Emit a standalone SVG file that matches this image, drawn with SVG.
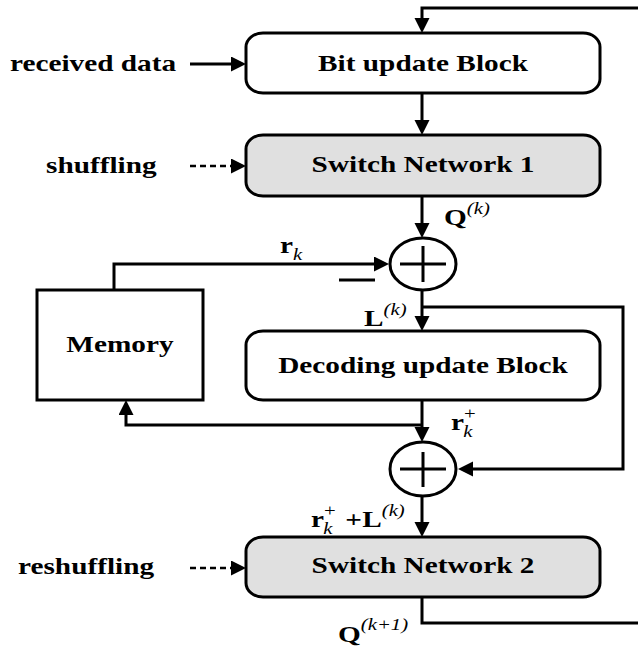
<svg xmlns="http://www.w3.org/2000/svg" width="638" height="649" viewBox="0 0 638 649">
  <style>
    .blk { fill: #ffffff; stroke: #000; stroke-width: 3; }
    .sw { fill: #e0e0e0; stroke: #000; stroke-width: 3; }
    .wire { fill: none; stroke: #000; stroke-width: 3; }
    .dash { fill: none; stroke: #000; stroke-width: 2.5; stroke-dasharray: 6 4; }
    .lbl { font-family: "Liberation Serif", "Times New Roman", serif; font-weight: bold; font-size: 24px; fill: #000; }
    .mid { text-anchor: middle; }
    .it { font-style: italic; font-weight: normal; font-size: 17px; }
    .up { font-weight: normal; font-size: 17px; }
  </style>
  <defs>
    <marker id="arrow" markerUnits="userSpaceOnUse" markerWidth="16" markerHeight="16" refX="11" refY="7.5" orient="auto">
      <path d="M0,0 L15,7.5 L0,15 Z" fill="#000"/>
    </marker>
  </defs>

  <!-- connectors -->
  <g id="connectors">
    <!-- loop back from Switch Network 2 to Bit update Block -->
    <path class="wire" d="M422,597 V623 H650 V8 H422 V29" marker-end="url(#arrow)"/>
    <path class="wire" d="M190,64 H242" marker-end="url(#arrow)"/>
    <path class="wire" d="M422,93 V131" marker-end="url(#arrow)"/>
    <path class="dash" d="M190,166 H242" marker-end="url(#arrow)"/>
    <path class="wire" d="M422,196 V234" marker-end="url(#arrow)"/>
    <!-- r_k from memory into adder 1 -->
    <path class="wire" d="M114,290 V264 H385" marker-end="url(#arrow)"/>
    <path class="wire" d="M339,280 H375"/>
    <path class="wire" d="M422,290 V327" marker-end="url(#arrow)"/>
    <!-- L(k) branch to adder 2 -->
    <path class="wire" d="M422,307 H623 V469 H462" marker-end="url(#arrow)"/>
    <path class="wire" d="M422,400 V438" marker-end="url(#arrow)"/>
    <!-- r_k+ back into memory -->
    <path class="wire" d="M422,425 H126 V404" marker-end="url(#arrow)"/>
    <path class="wire" d="M422,496 V533" marker-end="url(#arrow)"/>
    <path class="dash" d="M190,568 H242" marker-end="url(#arrow)"/>
  </g>

  <!-- nodes -->
  <g id="bit-update">
    <rect class="blk" x="246" y="33" width="354" height="60" rx="17" ry="14"/>
    <text class="lbl mid" transform="translate(423 71) scale(1.22 1)">Bit update Block</text>
  </g>
  <g id="switch-network-1">
    <rect class="sw" x="246" y="135" width="354" height="61" rx="17" ry="14"/>
    <text class="lbl mid" transform="translate(423 172) scale(1.22 1)">Switch Network 1</text>
  </g>
  <g id="adder-1">
    <ellipse class="blk" cx="423" cy="264" rx="33" ry="26"/>
    <path class="wire" d="M400,264 H446 M423,246 V282"/>
  </g>
  <g id="memory">
    <rect class="blk" x="37" y="290" width="166" height="110"/>
    <text class="lbl mid" transform="translate(120 352) scale(1.22 1)">Memory</text>
  </g>
  <g id="decoding-update">
    <rect class="blk" x="246" y="331" width="354" height="69" rx="17" ry="14"/>
    <text class="lbl mid" transform="translate(423 373) scale(1.22 1)">Decoding update Block</text>
  </g>
  <g id="adder-2">
    <ellipse class="blk" cx="423" cy="469" rx="33" ry="27"/>
    <path class="wire" d="M400,469 H446 M423,452 V487"/>
  </g>
  <g id="switch-network-2">
    <rect class="sw" x="246" y="537" width="354" height="60" rx="17" ry="14"/>
    <text class="lbl mid" transform="translate(423 573) scale(1.22 1)">Switch Network 2</text>
  </g>

  <!-- side inputs -->
  <g id="inputs">
    <text class="lbl" transform="translate(10 71) scale(1.22 1)">received data</text>
    <text class="lbl" transform="translate(46 173) scale(1.22 1)">shuffling</text>
    <text class="lbl" transform="translate(18 574) scale(1.22 1)">reshuffling</text>
  </g>

  <!-- signal labels -->
  <g id="signal-labels">
    <text class="lbl" transform="translate(444 225) scale(1.22 1)">Q<tspan class="it" dy="-11">(k)</tspan></text>
    <text class="lbl" transform="translate(280 253) scale(1.22 1)">r<tspan class="it" dy="7">k</tspan></text>
    <text class="lbl" transform="translate(364 326) scale(1.22 1)">L<tspan class="it" dy="-11">(k)</tspan></text>
    <text class="lbl" transform="translate(451 430) scale(1.22 1)">r<tspan class="up" dy="-11">+</tspan><tspan class="it" x="10" dy="18">k</tspan></text>
    <text class="lbl" transform="translate(311 527) scale(1.22 1)">r<tspan class="up" dy="-11">+</tspan><tspan class="it" x="10" dy="18">k</tspan><tspan x="28" dy="-7">+</tspan><tspan x="42">L</tspan><tspan class="it" dy="-11">(k)</tspan></text>
    <text class="lbl" transform="translate(338 642) scale(1.22 1)">Q<tspan class="it" dy="-12">(k+1)</tspan></text>
  </g>
</svg>
